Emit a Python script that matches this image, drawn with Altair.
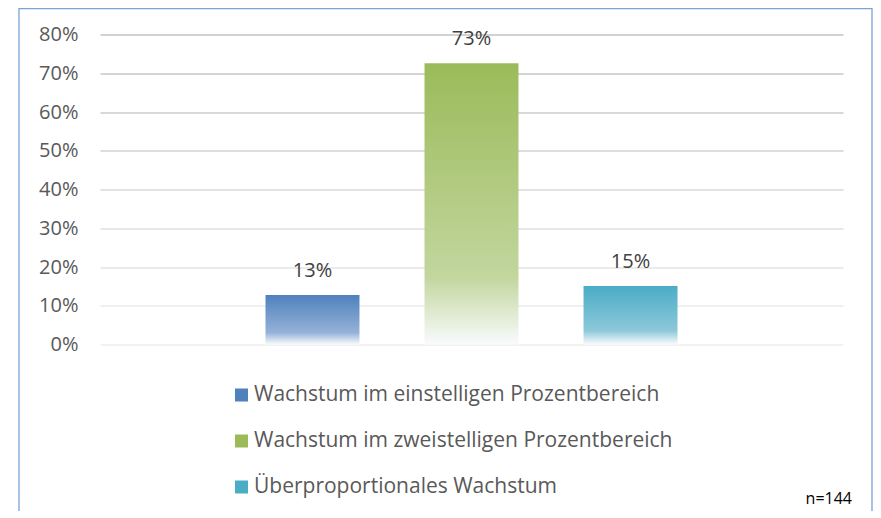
import altair as alt
import pandas as pd

# ---- data ----
series = [
    "Wachstum im einstelligen Prozentbereich",
    "Wachstum im zweistelligen Prozentbereich",
    "Überproportionales Wachstum",
]
values = [0.128, 0.726, 0.151]
base_colors = ["#4f81bd", "#9bbb59", "#4bacc6"]
mid_colors = ["#95b1d8", "#c2d69e", "#8cc8da"]
y_ticks = [0.0, 0.1, 0.2, 0.3, 0.4, 0.5, 0.6, 0.7, 0.8]
grid_colors = ["#eeeeee", "#ebebeb", "#e5e5e5", "#dfdfdf", "#d8d8d8",
               "#d2d2d2", "#cccccc", "#c7c7c7", "#c3c3c3"]
note = ["n=144"]

FONT = "Open Sans"

df = pd.DataFrame({"series": series, "value": values, "group": ["all"] * len(series)})
note_df = pd.DataFrame({"note": note})

x_enc = alt.X(
    "group:N",
    scale=alt.Scale(paddingInner=0, paddingOuter=0),
    axis=None,
)
xo_enc = alt.XOffset(
    "series:N",
    scale=alt.Scale(domain=series, paddingInner=0.409, paddingOuter=0, range=[165.5, 577.5]),
)
grid_cond = [
    {"test": f"abs(datum.value - {t}) < 0.001", "value": c}
    for t, c in zip(y_ticks[:-1], grid_colors[:-1])
]
y_enc = alt.Y(
    "value:Q",
    scale=alt.Scale(domain=[0, 0.8]),
    title=None,
    axis=alt.Axis(
        values=y_ticks,
        format=".0%",
        domain=False,
        ticks=False,
        labelFont=FONT,
        labelFontSize=20,
        labelColor="#595959",
        labelPadding=22,
        gridWidth=1.3,
        gridColor={"condition": grid_cond, "value": grid_colors[-1]},
    ),
)

base = alt.Chart(df).encode(x=x_enc, xOffset=xo_enc, y=y_enc)

legend_layer = base.mark_bar(opacity=0).encode(
    color=alt.Color(
        "series:N",
        scale=alt.Scale(domain=series, range=base_colors),
        legend=alt.Legend(
            title=None,
            orient="none",
            legendX=131,
            legendY=350,
            direction="vertical",
            symbolType="square",
            symbolSize=169,
            symbolOpacity=1,
            symbolStrokeWidth=0,
            labelFont=FONT,
            labelFontSize=21,
            labelColor="#595959",
            labelOffset=2,
            rowPadding=24,
            padding=0,
            labelLimit=600,
        ),
    )
)

grad_layers = []
for s, c0, c1 in zip(series, base_colors, mid_colors):
    grad = alt.Gradient(
        gradient="linear",
        x1=0, x2=0, y1=0, y2=1,
        stops=[
            alt.GradientStop(color=c0, offset=0),
            alt.GradientStop(color=c1, offset=0.76),
            alt.GradientStop(color="#f9fbfd", offset=1),
        ],
    )
    grad_layers.append(
        base.transform_filter(alt.datum.series == s).mark_bar(fill=grad)
    )

labels = base.mark_text(
    baseline="alphabetic", dy=-18, fontSize=20, font=FONT, color="#404040"
).encode(text=alt.Text("value:Q", format=".0%"))

frame = alt.Chart(note_df).mark_rect(
    fillOpacity=0, stroke="#7aa3d8", strokeWidth=1.3
).encode(
    x=alt.value(-81), x2=alt.value(772), y=alt.value(-25.8), y2=alt.value(600)
)

note_text = alt.Chart(note_df).mark_text(
    align="right", baseline="alphabetic", fontSize=16, font=FONT, color="#000000"
).encode(x=alt.value(752), y=alt.value(469), text="note:N")

chart = (
    alt.layer(frame, legend_layer, *grad_layers, labels, note_text)
    .properties(
        width=743,
        height=310,
        autosize="none",
        padding={"left": 92, "top": 26.5, "right": 30, "bottom": 166},
    )
    .configure(background="white")
    .configure_view(stroke=None)
)

chart.save("out.html", embed_options={"renderer": "svg", "actions": False})
